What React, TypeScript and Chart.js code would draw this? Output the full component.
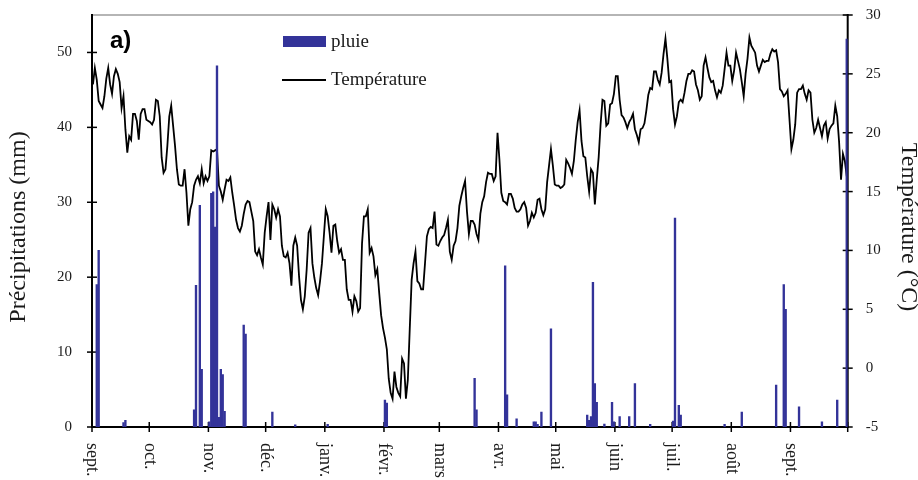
import React, { useEffect, useRef } from 'react';
import { Chart, registerables } from 'chart.js';

Chart.register(...registerables);

// Month boundaries along the hydrological year (day 0 = 1 September)
const monthLabels = ['sept.', 'oct.', 'nov.', 'déc.', 'janv.', 'févr.', 'mars', 'avr.', 'mai', 'juin', 'juil.', 'août', 'sept.'];
const monthStartDays = [0, 30, 61, 91, 122, 153, 182, 213, 243, 274, 304, 335, 366];
const lastDay = 395;

// Daily mean air temperature (°C), one value per day from 1 September
const temperature = [
  24.1, 25.5, 24.5, 22.7, 22.4, 22.1, 23.1, 24.6, 25.5, 24.1,
  23.3, 24.8, 25.4, 25.0, 24.3, 22.1, 23.1, 20.3, 18.3, 19.7,
  19.4, 21.6, 21.6, 21.0, 19.4, 21.6, 22.0, 22.0, 21.1, 21.0,
  20.9, 20.7, 21.1, 22.8, 22.7, 21.4, 17.9, 16.6, 16.9, 18.9,
  21.4, 22.3, 20.6, 18.9, 16.9, 15.6, 15.5, 15.5, 16.9, 14.9,
  12.1, 13.5, 14.1, 15.5, 16.0, 16.3, 15.7, 16.9, 15.7, 16.3,
  15.9, 16.3, 18.5, 18.4, 18.5, 18.6,
  15.5, 15.0, 14.3, 15.2, 16.0, 15.9, 16.2, 14.9, 13.8, 12.6,
  11.9, 11.6, 12.1, 13.1, 13.9, 14.2, 14.1, 13.3, 12.5, 9.9,
  9.6, 10.1, 9.4, 8.8, 11.5, 12.9, 14.1, 10.9, 13.9, 13.5,
  12.8, 13.5, 12.9, 10.4, 9.5, 9.4, 9.8, 8.9, 7.0, 10.4,
  11.1, 10.4, 7.8, 5.8, 5.0, 6.1, 8.4, 11.5, 11.9, 8.9,
  7.7, 6.8, 6.2, 7.4, 8.9, 11.2, 13.5, 12.9, 11.5, 9.8,
  12.1, 12.2, 10.8, 9.8, 10.1, 9.2,
  9.2, 6.7, 5.8, 5.8, 4.8, 6.1, 5.7, 4.8, 5.1, 10.6,
  12.9, 12.9, 13.5, 9.8, 10.2, 9.5, 7.9, 8.4, 6.4, 4.5,
  3.4, 2.6, 1.6, -0.9, -2.1, -2.6, -0.3, -1.6, -2.1, -2.4,
  0.8, 0.4, -2.6, -1.0, 3.3, 7.5, 8.9, 9.9, 7.4, 7.2,
  6.7, 6.7, 8.9, 11.2, 11.8, 12.0, 11.9, 13.3, 10.5, 10.4,
  10.8, 11.1, 11.3, 11.9, 12.6, 9.9, 9.2, 10.4, 10.8, 11.9,
  13.8, 14.6, 15.3, 15.9, 13.3, 11.4,
  12.5, 12.5, 12.2, 11.4, 10.9, 13.1, 14.1, 14.6, 15.8, 16.6,
  16.5, 16.5, 15.9, 16.3, 20.0, 17.7, 14.9, 14.2, 14.1, 13.9,
  14.8, 14.8, 14.4, 13.6, 13.3, 13.3, 13.5, 13.9, 14.1, 13.6,
  12.1, 12.5, 13.2, 12.8, 13.2, 14.3, 14.4, 13.5, 13.0, 13.5,
  15.8, 17.2, 18.6, 17.2, 15.6, 15.5, 15.5, 15.3, 15.4, 15.6,
  17.7, 17.4, 17.0, 16.5, 17.6, 19.4, 20.9, 21.9, 19.3, 18.0,
  17.9, 16.3, 15.0, 16.9, 16.6,
  13.9, 16.0, 17.9, 20.7, 22.8, 22.7, 20.6, 20.8, 22.4, 22.5,
  23.3, 24.8, 24.8, 22.8, 21.5, 21.3, 20.9, 20.4, 20.9, 21.2,
  21.6, 20.3, 19.8, 19.2, 20.3, 20.4, 20.8, 21.9, 23.2, 23.8,
  23.7, 25.2, 25.2, 24.5, 24.1, 25.1, 26.7, 28.0, 26.3, 24.3,
  24.4, 22.0, 20.7, 21.4, 22.6, 22.8, 22.6, 23.4, 24.4, 25.0,
  25.0, 25.3, 25.2, 24.1, 23.6, 22.8, 23.1, 25.7, 26.4, 25.5,
  24.7, 24.3, 24.4, 23.6, 23.0,
  23.6, 23.4, 24.0, 25.4, 26.8, 25.7, 25.7, 24.4, 25.3, 26.8,
  26.1, 25.4, 24.3, 23.1, 25.0, 26.3, 28.1, 27.4, 27.1, 26.8,
  25.7, 25.2, 25.7, 26.2, 26.0, 26.1, 26.1, 26.7, 27.1, 26.9,
  27.0, 26.0, 23.7, 23.5, 23.1, 23.3, 23.6, 21.1, 18.6, 19.4,
  20.7, 23.4, 23.7, 23.7, 24.0, 23.3, 22.8, 23.6, 23.4, 21.1,
  20.0, 20.4, 21.1, 20.4, 19.7, 20.6, 20.9, 19.5, 20.3, 20.6,
  20.8, 22.3, 21.4, 19.2, 16.0, 18.2, 17.6, 16.3,
];

// Rainy days (day index from 1 September) and daily rainfall (mm)
const rainDays = [
  2, 3, 16, 17, 53, 54, 56, 57, 61, 62, 63, 64, 65, 66, 67, 68, 69, 79, 80, 94,
  106, 123, 153, 154, 200, 201, 216, 217, 222, 231, 232, 233, 235, 240, 259, 260, 261, 262, 263, 264,
  268, 272, 273, 276, 281, 284, 292, 304, 305, 307, 308, 331, 340, 358, 362, 363, 370, 382, 390, 395,
];
const rainMm = [
  19.0, 23.6, 0.6, 0.9, 2.3, 18.9, 29.6, 7.7, 0.7, 31.2, 31.4, 26.7, 48.2, 1.3, 7.7, 7.0, 2.1, 13.6, 12.4, 2.0,
  0.3, 0.35, 3.6, 3.2, 6.5, 2.3, 21.5, 4.3, 1.1, 0.7, 0.7, 0.35, 2.0, 13.1, 1.6, 0.9, 1.4, 19.3, 5.8, 3.3,
  0.4, 3.3, 0.7, 1.4, 1.4, 5.8, 0.35, 0.8, 27.9, 2.9, 1.6, 0.35, 2.0, 5.6, 19.0, 15.7, 2.7, 0.7, 3.6, 51.8,
];

const rainTicks = [0, 10, 20, 30, 40, 50];
const tempTicks = [-5, 0, 5, 10, 15, 20, 25, 30];

const SERIF = '"Liberation Serif", "Times New Roman", Times, serif';
const SANS = '"Liberation Sans", Arial, sans-serif';
const RAIN_COLOR = '#333399';
const TEXT_COLOR = '#1a1a1a';

const framePlugin = {
  id: 'frame',
  beforeDatasetsDraw(chart: any) {
    const { ctx, chartArea: a, scales } = chart;
    const seg = (x1: number, y1: number, x2: number, y2: number) => {
      ctx.beginPath();
      ctx.moveTo(x1, y1);
      ctx.lineTo(x2, y2);
      ctx.stroke();
    };
    ctx.save();
    ctx.strokeStyle = '#9c9c9c';
    ctx.lineWidth = 1.5;
    seg(a.left, a.top, a.right, a.top);

    ctx.strokeStyle = '#000';
    ctx.lineWidth = 2;
    seg(a.left, a.top - 1, a.left, a.bottom + 1);
    seg(a.right, a.top - 1, a.right, a.bottom + 1);
    seg(a.left - 1, a.bottom, a.right + 1, a.bottom);

    ctx.lineWidth = 1.5;
    rainTicks.forEach((v) => {
      const y = scales.yRain.getPixelForValue(v);
      seg(a.left - 5, y, a.left + 5, y);
    });
    tempTicks.forEach((v) => {
      const y = scales.yTemp.getPixelForValue(v);
      seg(a.right - 5, y, a.right + 5, y);
    });
    [...monthStartDays, lastDay + 1].forEach((d) => {
      const x = scales.x.getPixelForValue(d - 0.5);
      seg(x, a.bottom - 5, x, a.bottom + 5);
    });
    ctx.restore();
  },
  afterDraw(chart: any) {
    const { ctx, chartArea: a, scales } = chart;
    ctx.save();
    ctx.fillStyle = TEXT_COLOR;

    // month names, rotated to read downwards
    ctx.font = `18px ${SERIF}`;
    ctx.textAlign = 'left';
    ctx.textBaseline = 'middle';
    monthStartDays.forEach((d, i) => {
      const x = scales.x.getPixelForValue(d - 0.5);
      ctx.save();
      ctx.translate(x, a.bottom + 16);
      ctx.rotate(Math.PI / 2);
      ctx.fillText(monthLabels[i], 0, 0);
      ctx.restore();
    });

    // axis titles
    const midY = (a.top + a.bottom) / 2 + 6;
    ctx.font = `24px ${SERIF}`;
    ctx.textAlign = 'center';
    ctx.save();
    ctx.translate(19, midY);
    ctx.rotate(-Math.PI / 2);
    ctx.fillText('Précipitations (mm)', 0, 0);
    ctx.restore();
    ctx.save();
    ctx.translate(a.right + 61, midY);
    ctx.rotate(Math.PI / 2);
    ctx.fillText('Température (°C)', 0, 0);
    ctx.restore();

    // panel letter
    ctx.font = `bold 24px ${SANS}`;
    ctx.textAlign = 'left';
    ctx.fillStyle = '#000';
    ctx.fillText('a)', a.left + 18, a.top + 26);

    // legend
    ctx.fillStyle = RAIN_COLOR;
    ctx.fillRect(a.left + 191, a.top + 21, 43, 11);
    ctx.strokeStyle = '#000';
    ctx.lineWidth = 2;
    ctx.beginPath();
    ctx.moveTo(a.left + 190, a.top + 65);
    ctx.lineTo(a.left + 234, a.top + 65);
    ctx.stroke();
    ctx.fillStyle = TEXT_COLOR;
    ctx.font = `19px ${SERIF}`;
    ctx.fillText('pluie', a.left + 239, a.top + 27);
    ctx.fillText('Température', a.left + 239, a.top + 65);
    ctx.restore();
  },
};

const noVerticalPadding = (width: number) => (s: any) => {
  s.width = width;
  s.paddingTop = 0;
  s.paddingBottom = 0;
};

export default function App() {
  const canvasRef = useRef<HTMLCanvasElement | null>(null);

  useEffect(() => {
    const canvas = canvasRef.current;
    if (!canvas) return;
    const chart = new Chart(canvas, {
      data: {
        datasets: [
          {
            type: 'bar',
            label: 'pluie',
            data: rainDays.map((d, i) => ({ x: d, y: rainMm[i] })),
            yAxisID: 'yRain',
            backgroundColor: RAIN_COLOR,
            borderWidth: 0,
            barThickness: 1.7,
            order: 0,
          },
          {
            type: 'line',
            label: 'Température',
            data: temperature.map((t, d) => ({ x: d, y: t })),
            yAxisID: 'yTemp',
            borderColor: '#000',
            borderWidth: 1.8,
            pointRadius: 0,
            tension: 0,
            fill: false,
            order: 1,
          },
        ],
      } as any,
      options: {
        responsive: false,
        animation: false,
        layout: { padding: { top: 15, left: 0, right: 0, bottom: 0 } },
        plugins: { legend: { display: false }, tooltip: { enabled: false } },
        scales: {
          x: {
            type: 'linear',
            offset: false,
            min: -0.5,
            max: lastDay + 0.5,
            ticks: { display: false },
            grid: { display: false, drawTicks: false, offset: false },
            border: { display: false },
            afterFit: (s: any) => {
              s.height = 53;
              s.paddingLeft = 0;
              s.paddingRight = 0;
            },
          },
          yRain: {
            type: 'linear',
            position: 'left',
            min: 0,
            max: 55,
            afterBuildTicks: (s: any) => { s.ticks = rainTicks.map((v) => ({ value: v })); },
            ticks: { padding: 20, color: TEXT_COLOR, font: { family: SERIF, size: 15 } },
            grid: { display: false, drawTicks: false },
            border: { display: false },
            afterFit: noVerticalPadding(92),
          },
          yTemp: {
            type: 'linear',
            position: 'right',
            min: -5,
            max: 30,
            afterBuildTicks: (s: any) => { s.ticks = tempTicks.map((v) => ({ value: v })); },
            ticks: { padding: 18, color: TEXT_COLOR, font: { family: SERIF, size: 15 } },
            grid: { display: false, drawTicks: false },
            border: { display: false },
            afterFit: noVerticalPadding(70.3),
          },
        },
      } as any,
      plugins: [framePlugin],
    });
    return () => chart.destroy();
  }, []);

  return (
    <div style={{ position: 'absolute', left: 0, top: 0, width: 918, height: 480, background: '#fff' }}>
      <canvas ref={canvasRef} width={918} height={480} style={{ display: 'block' }} />
    </div>
  );
}
